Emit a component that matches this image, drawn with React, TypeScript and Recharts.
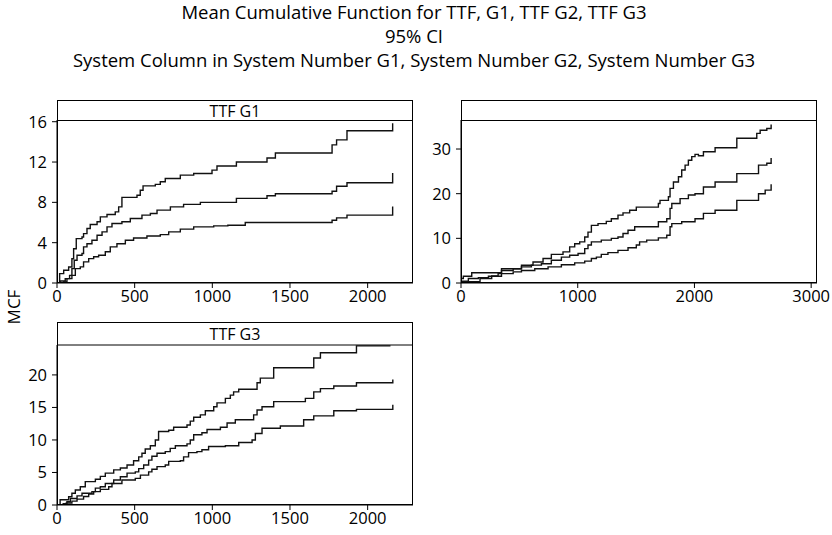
import React from "react";
import { LineChart, Line, XAxis, YAxis } from "recharts";

// ---------- data (time, MCF) ----------
const g1Upper: [number, number][] = [[0,0],[17,0.93],[43,1.26],[75,1.59],[96,2.4],[107,3.4],[124,4.4],[161,4.57],[171,4.9],[193,5.4],[214,5.8],[258,6.07],[279,6.56],[322,6.8],[375,7.06],[397,7.55],[418,8.49],[515,8.7],[536,9.2],[554,9.64],[633,9.78],[665,10.04],[697,10.37],[794,10.7],[880,10.87],[998,11.2],[1030,11.6],[1155,12.0],[1352,12.4],[1406,12.9],[1771,13.7],[1800,14.2],[1867,15.1],[2161,15.85]];
const g1Mean: [number, number][] = [[0,0],[20,0.2],[53,0.43],[81,0.76],[96,1.43],[111,2.26],[129,2.75],[161,2.92],[171,3.58],[193,3.9],[225,4.24],[258,4.74],[290,5.07],[322,5.57],[354,5.9],[418,6.07],[472,6.4],[547,6.73],[601,6.9],[644,7.23],[730,7.55],[815,7.8],[923,8.0],[1155,8.4],[1352,8.65],[1406,8.85],[1771,9.1],[1800,9.6],[1867,9.94],[2161,10.9]];
const g1Lower: [number, number][] = [[0,0],[43,0.1],[64,0.43],[96,0.76],[118,1.43],[150,1.6],[171,2.1],[204,2.42],[236,2.6],[268,2.75],[311,3.1],[343,3.58],[386,3.9],[440,4.24],[493,4.47],[579,4.67],[665,4.8],[719,5.07],[794,5.34],[880,5.57],[1009,5.67],[1100,5.73],[1212,6.0],[1771,6.23],[1800,6.46],[1867,6.73],[2161,7.6]];

const g2Upper: [number, number][] = [[0,1.0],[20,1.5],[92,2.3],[347,3.2],[518,3.97],[617,4.7],[703,5.5],[774,6.4],[874,6.97],[931,8.1],[974,8.8],[1017,9.2],[1060,10.3],[1088,11.4],[1117,12.9],[1174,13.3],[1245,13.8],[1288,14.4],[1345,15.2],[1388,15.7],[1445,16.3],[1502,17.0],[1691,17.8],[1705,18.5],[1777,19.3],[1791,21.2],[1820,22.6],[1863,23.8],[1891,25.3],[1920,26.4],[1948,27.5],[1977,28.3],[2005,28.8],[2034,28.5],[2077,29.4],[2177,30.3],[2363,32.4],[2534,33.5],[2563,34.2],[2620,34.6],[2657,35.5]];
const g2Mean: [number, number][] = [[0,0.4],[63,1.0],[149,1.2],[235,1.5],[347,2.8],[447,3.2],[518,3.6],[603,4.0],[689,4.3],[774,5.1],[860,5.8],[931,6.2],[1003,6.6],[1060,7.7],[1088,8.5],[1117,9.2],[1202,9.6],[1288,10.0],[1345,10.3],[1388,11.1],[1431,11.8],[1488,12.6],[1691,13.7],[1763,14.4],[1791,16.7],[1806,17.8],[1877,18.9],[1948,19.7],[2005,20.0],[2077,21.5],[2177,22.6],[2363,24.5],[2549,26.4],[2620,26.8],[2657,28.0]];
const g2Lower: [number, number][] = [[0,0],[60,0.3],[163,1.0],[263,1.6],[318,2.1],[447,2.5],[518,2.8],[632,3.2],[746,3.6],[860,4.1],[974,4.5],[1060,4.9],[1117,5.5],[1160,5.8],[1202,6.4],[1259,6.8],[1345,7.3],[1431,7.9],[1502,8.5],[1530,9.2],[1591,9.6],[1691,10.1],[1763,10.7],[1791,12.6],[1806,13.3],[1891,13.7],[2005,14.4],[2077,15.6],[2177,16.3],[2363,18.5],[2549,20.0],[2606,20.8],[2657,22.1]];

const g3Upper: [number, number][] = [[0,0],[20,0.8],[75,1.28],[96,1.8],[118,2.3],[150,2.8],[182,3.6],[247,3.95],[279,4.4],[311,4.9],[365,5.4],[408,5.7],[451,6.15],[493,6.8],[526,7.4],[547,7.95],[568,8.6],[601,9.1],[633,10.0],[654,11.3],[719,11.5],[751,11.95],[837,12.3],[858,12.9],[880,13.5],[923,13.85],[955,14.5],[1009,15.1],[1030,15.7],[1084,16.4],[1116,16.9],[1137,17.4],[1170,17.8],[1288,18.8],[1309,19.5],[1395,21.1],[1653,22.6],[1696,23.4],[1928,24.46],[2147,24.46]];
const g3Mean: [number, number][] = [[0,0],[40,0.2],[64,0.5],[86,1.0],[129,1.4],[161,1.8],[225,2.05],[247,2.6],[279,2.8],[311,3.3],[365,3.85],[408,4.35],[451,4.9],[504,5.1],[526,5.6],[558,6.15],[590,6.9],[611,7.5],[644,7.95],[697,8.2],[729,8.7],[762,9.1],[837,9.4],[858,10.0],[880,10.8],[933,11.1],[966,11.6],[1052,11.95],[1095,12.6],[1148,13.1],[1266,13.85],[1288,14.6],[1320,15.1],[1395,15.9],[1599,16.4],[1653,17.4],[1696,17.9],[1782,18.3],[1928,18.8],[2162,19.3]];
const g3Lower: [number, number][] = [[0,0],[60,0.3],[96,0.6],[129,0.9],[171,1.3],[204,1.7],[236,2.05],[279,2.4],[333,2.8],[354,3.3],[418,3.85],[504,4.1],[537,4.6],[590,5.1],[611,5.5],[644,5.9],[697,6.15],[719,6.7],[794,6.8],[815,7.4],[847,8.05],[901,8.2],[933,8.5],[976,9.0],[1084,9.1],[1170,9.6],[1256,10.0],[1277,11.0],[1320,11.8],[1438,12.15],[1588,13.1],[1653,13.7],[1782,14.5],[1928,14.7],[2162,15.4]];

const xTicks13 = [0, 500, 1000, 1500, 2000];
const xTicks2 = [0, 1000, 2000, 3000];
const yTicks1 = [0, 4, 8, 12, 16];
const yTicks2 = [0, 10, 20, 30];
const yTicks3 = [0, 5, 10, 15, 20];

const titleLines = [
  "Mean Cumulative Function for TTF, G1, TTF G2, TTF G3",
  "95% CI",
  "System Column in System Number G1, System Number G2, System Number G3",
];
const panelTitles = ["TTF G1", "", "TTF G3"];
const yLabel = "MCF";

const FONT = "'Open Sans', sans-serif";
const tickStyle = { fontSize: 16.5, fill: "#000", fontFamily: FONT };

const toPts = (a: [number, number][]) => a.map(([x, y]) => ({ x, y }));

type PanelProps = {
  plotX: number; plotY: number; plotLeft: number; plotW: number; plotH: number;
  xDomain: [number, number]; yDomain: [number, number];
  xTicks: number[]; yTicks: number[];
  series: [number, number][][];
};

const MT = 14;
const MR = 28;

function Panel(p: PanelProps) {
  const xh = 30;
  return (
    <div style={{ position: "absolute", left: p.plotX - p.plotLeft, top: p.plotY - MT }}>
      <LineChart width={p.plotLeft + p.plotW + MR} height={p.plotH + xh + MT}
        margin={{ top: MT, right: MR, bottom: 0, left: 0 }}>
        <XAxis dataKey="x" type="number" domain={p.xDomain} ticks={p.xTicks} allowDataOverflow
          height={xh} tick={tickStyle} tickSize={5} stroke="#000" tickLine={{ stroke: "#000" }} interval={0} />
        <YAxis type="number" domain={p.yDomain} ticks={p.yTicks} allowDataOverflow width={p.plotLeft}
          tick={tickStyle} tickSize={5} tickMargin={5} stroke="#000" tickLine={{ stroke: "#000" }} interval={0} />
        {p.series.map((s, i) => (
          <Line key={i} data={toPts(s)} dataKey="y" type="stepAfter" stroke="#111" strokeWidth={1.4}
            dot={false} activeDot={false} isAnimationActive={false} />
        ))}
      </LineChart>
    </div>
  );
}

export default function App() {
  return (
    <div style={{ position: "absolute", left: 0, top: 0, width: 832, height: 535, background: "#fff", fontFamily: FONT }}>
      <Panel plotX={57} plotY={120} plotLeft={57} plotW={356} plotH={163}
        xDomain={[0, 2292]} yDomain={[0, 16.17]} xTicks={xTicks13} yTicks={yTicks1}
        series={[g1Upper, g1Mean, g1Lower]} />
      <Panel plotX={461} plotY={120} plotLeft={57} plotW={356} plotH={163}
        xDomain={[0, 3050]} yDomain={[0, 36.5]} xTicks={xTicks2} yTicks={yTicks2}
        series={[g2Upper, g2Mean, g2Lower]} />
      <Panel plotX={57} plotY={345} plotLeft={57} plotW={356} plotH={160}
        xDomain={[0, 2292]} yDomain={[0, 24.6]} xTicks={xTicks13} yTicks={yTicks3}
        series={[g3Upper, g3Mean, g3Lower]} />
      <svg width={832} height={535} style={{ position: "absolute", left: 0, top: 0, pointerEvents: "none" }}>
        <g fontFamily={FONT} fill="#000" textAnchor="middle" fontSize={18.5}>
          <text x={414} y={19}>{titleLines[0]}</text>
          <text x={414} y={43}>{titleLines[1]}</text>
          <text x={414} y={67}>{titleLines[2]}</text>
        </g>
        {/* panel frames */}
        <g fill="none" stroke="#000" strokeWidth={1}>
          <rect x={57.5} y={100.5} width={355} height={182} />
          <line x1={57} x2={413} y1={120.5} y2={120.5} />
          <rect x={461.5} y={100.5} width={355} height={182} />
          <line x1={461} x2={817} y1={120.5} y2={120.5} />
          <rect x={57.5} y={322.5} width={355} height={182} />
          <line x1={57} x2={413} y1={345} y2={345} />
        </g>
        <g fontFamily={FONT} fill="#000" textAnchor="middle" fontSize={16}>
          <text x={235} y={116.5}>{panelTitles[0]}</text>
          <text x={639} y={116.5}>{panelTitles[1]}</text>
          <text x={235} y={340}>{panelTitles[2]}</text>
          <text x={20} y={307} fontSize={17} transform="rotate(-90 20 307)">{yLabel}</text>
        </g>
      </svg>
    </div>
  );
}
